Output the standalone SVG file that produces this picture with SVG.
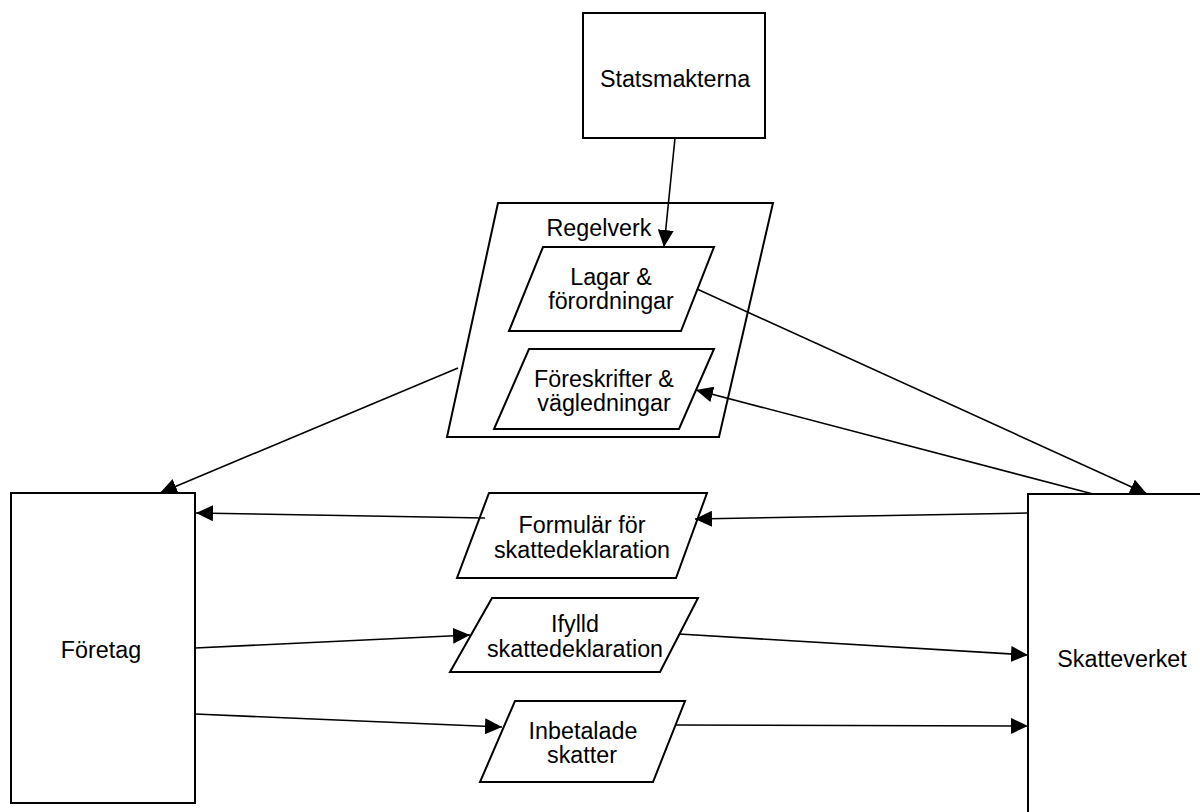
<svg xmlns="http://www.w3.org/2000/svg" width="1200" height="812" viewBox="0 0 1200 812">
<style>
.shape{fill:#fff;stroke:#000;stroke-width:2}
.conn{fill:none;stroke:#000;stroke-width:1.6}
text{font-family:"Liberation Sans",Arial,sans-serif;font-size:23.3px;fill:#000;text-anchor:middle}
</style>
<defs>
<marker id="arr" markerUnits="userSpaceOnUse" markerWidth="18" markerHeight="16" refX="17" refY="8" orient="auto" viewBox="0 0 18 16">
<path d="M0,0 L17,8 L0,16 z" fill="#000"/>
</marker>
</defs>
<rect width="1200" height="812" fill="#fff"/>
<g id="statsmakterna">
<rect class="shape" x="583" y="13" width="182" height="125"/>
<text x="675" y="87">Statsmakterna</text>
</g>
<g id="regelverk">
<polygon class="shape" points="498,203 773,203 719,437 447,437"/>
<text x="599" y="236">Regelverk</text>
</g>
<g id="lagar">
<polygon class="shape" points="543,247 714,247 681,331 509,331"/>
<text x="611" y="285">Lagar &amp;</text>
<text x="611" y="309">förordningar</text>
</g>
<g id="foreskrifter">
<polygon class="shape" points="529,349 714,349 679,429 494,429"/>
<text x="604" y="387">Föreskrifter &amp;</text>
<text x="604" y="411">vägledningar</text>
</g>
<g id="foretag">
<rect class="shape" x="11" y="493" width="184" height="310"/>
<text x="101" y="658">Företag</text>
</g>
<g id="skatteverket">
<rect class="shape" x="1028" y="494" width="186" height="330"/>
<text x="1122" y="667">Skatteverket</text>
</g>
<g id="formular">
<polygon class="shape" points="489,493 707,493 676,578 457,578"/>
<text x="582" y="533">Formulär för</text>
<text x="582" y="558">skattedeklaration</text>
</g>
<g id="ifylld">
<polygon class="shape" points="492,598 698,598 660,672 450,672"/>
<text x="575" y="632">Ifylld</text>
<text x="575" y="657">skattedeklaration</text>
</g>
<g id="inbetalade">
<polygon class="shape" points="515,701 685,701 653,782 480,782"/>
<text x="583" y="739">Inbetalade</text>
<text x="582" y="763">skatter</text>
</g>
<g id="connectors">
<line class="conn" x1="675" y1="138" x2="664" y2="247" marker-end="url(#arr)"/>
<line class="conn" x1="458" y1="368" x2="160" y2="493" marker-end="url(#arr)"/>
<line class="conn" x1="697" y1="289" x2="1147" y2="494" marker-end="url(#arr)"/>
<line class="conn" x1="1093" y1="494" x2="696" y2="390" marker-end="url(#arr)"/>
<line class="conn" x1="1028" y1="513" x2="695" y2="519" marker-end="url(#arr)"/>
<line class="conn" x1="485" y1="518" x2="196" y2="513" marker-end="url(#arr)"/>
<line class="conn" x1="195" y1="648" x2="470" y2="635" marker-end="url(#arr)"/>
<line class="conn" x1="679" y1="634" x2="1028" y2="655" marker-end="url(#arr)"/>
<line class="conn" x1="195" y1="714" x2="502" y2="727" marker-end="url(#arr)"/>
<line class="conn" x1="676" y1="725" x2="1028" y2="726" marker-end="url(#arr)"/>
</g>
</svg>
